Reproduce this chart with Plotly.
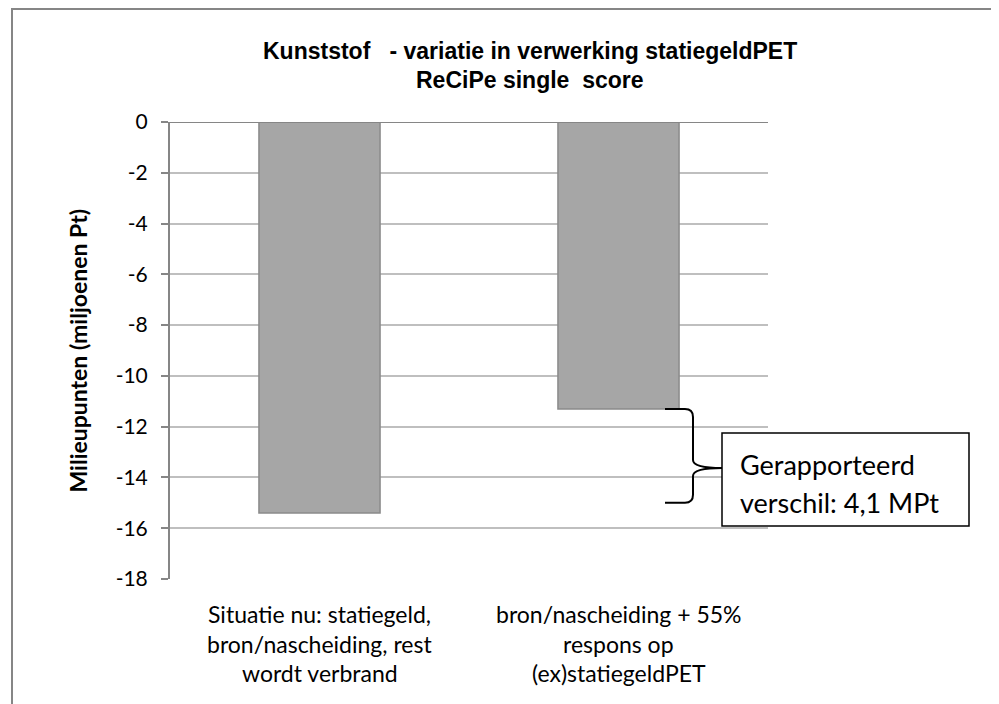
import plotly.graph_objects as go

category_lines = [["Situatie nu: statiegeld,", "bron/nascheiding, rest", "wordt verbrand"],
                  ["bron/nascheiding + 55%", "respons op", "(ex)statiegeldPET"]]
categories = [" ".join(c) for c in category_lines]
values = [-15.4, -11.3]
reported_low = -15.0
y_ticks = [0, -2, -4, -6, -8, -10, -12, -14, -16, -18]
title_lines = ["Kunststof   - variatie in verwerking statiegeldPET", "ReCiPe single  score"]
y_title = "Milieupunten (miljoenen Pt)"
note_lines = ["Gerapporteerd", "verschil: 4,1 MPt"]

W, H = 999, 704
OFF = 8  # page body margin
L, R, T, B = 170, 768, 122, 579
pw, ph = R - L, B - T

def px(x):
    return (x - L) / pw

def py(y):
    return (B - y) / ph

fig = go.Figure()
fig.add_trace(go.Bar(
    x=categories, y=values, width=0.405,
    marker=dict(color="#A6A6A6", line=dict(color="#8A8A8A", width=1.5)),
    hoverinfo="skip",
))

calibri = "Lato, Liberation Sans, sans-serif"

fig.update_layout(
    width=W, height=H,
    margin=dict(l=L - OFF, r=W - (R - OFF), t=T - OFF, b=H - (B - OFF)),
    paper_bgcolor="white", plot_bgcolor="white",
    showlegend=False,
    font=dict(family=calibri, size=16, color="black"),
    xaxis=dict(showgrid=False, showline=False, ticks="", showticklabels=False, fixedrange=True),
    yaxis=dict(range=[-18, 0], tickvals=y_ticks, ticktext=[str(v) for v in y_ticks],
               showgrid=True, gridcolor="#BFBFBF", gridwidth=1.5,
               showline=True, linecolor="#868686", linewidth=2,
               ticks="outside", ticklen=7, tickcolor="#868686", tickwidth=2,
               ticklabelstandoff=9,
               tickfont=dict(size=21, family=calibri), zeroline=False, fixedrange=True),
)

shapes = []
# chart area border
shapes.append(dict(type="rect", xref="paper", yref="paper",
                   x0=px(12), x1=px(1080), y0=py(760), y1=py(9),
                   line=dict(color="#868686", width=2), fillcolor="rgba(0,0,0,0)", layer="below"))
# axis line at 0
shapes.append(dict(type="line", xref="paper", yref="y", x0=0, x1=1, y0=0, y1=0,
                   line=dict(color="#868686", width=2)))
# curly brace between bar 2 and reported value
y_top_px = B - (values[1] - (-18)) / 18 * ph
y_bot_px = B - (reported_low - (-18)) / 18 * ph
ym = 468
xa, xb, xt = 665, 693, 722
def P(x, y):
    return f"{px(x):.5f},{py(y):.5f}"
path = (f"M {P(xa, y_top_px)} L {P(xb-8, y_top_px)} Q {P(xb, y_top_px)} {P(xb, y_top_px+8)} "
        f"L {P(xb, ym-8)} Q {P(xb, ym)} {P(xt, ym)} "
        f"Q {P(xb, ym)} {P(xb, ym+8)} L {P(xb, y_bot_px-8)} "
        f"Q {P(xb, y_bot_px)} {P(xb-8, y_bot_px)} L {P(xa, y_bot_px)}")
shapes.append(dict(type="path", xref="paper", yref="paper", path=path,
                   line=dict(color="black", width=2)))
# annotation box
shapes.append(dict(type="rect", xref="paper", yref="paper",
                   x0=px(722), x1=px(969), y0=py(526), y1=py(433),
                   line=dict(color="black", width=1.5), fillcolor="white"))
fig.update_layout(shapes=shapes)

# note text
for i, t in enumerate(note_lines):
    fig.add_annotation(xref="paper", yref="paper", x=px(738), y=py(464 + 38 * i),
                       xanchor="left", yanchor="middle", text=t, showarrow=False,
                       font=dict(size=27, family=calibri, color="black"))
# title
for i, t in enumerate(title_lines):
    fig.add_annotation(xref="paper", yref="paper", x=px(530), y=py(51 + 29 * i),
                       xanchor="center", yanchor="middle", text="<b>" + t + "</b>", showarrow=False,
                       font=dict(size=23, family="Liberation Sans, Arial", color="black"))
# y axis title
fig.add_annotation(xref="paper", yref="paper", x=px(77), y=0.5, xanchor="center", yanchor="middle",
                   text="<b>" + y_title + "</b>", textangle=-90, showarrow=False,
                   font=dict(size=23, family=calibri, color="black"))
# category labels
for cat, lines in zip(categories, category_lines):
    for j, t in enumerate(lines):
        fig.add_annotation(xref="x", yref="paper", x=cat, y=py(614 + 29.5 * j),
                           xanchor="center", yanchor="middle", text=t, showarrow=False,
                           font=dict(size=23, family=calibri, color="black"))

fig.write_html("out.html")
